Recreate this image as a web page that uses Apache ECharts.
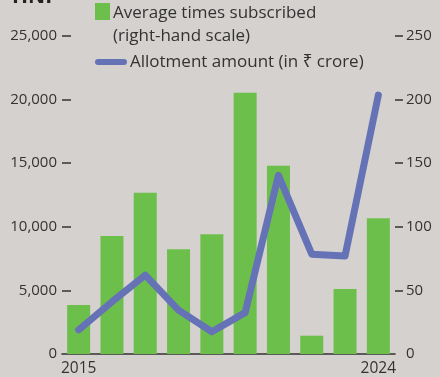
<!DOCTYPE html>
<html>
<head>
<meta charset="utf-8">
<script src="https://cdn.jsdelivr.net/npm/echarts@6/dist/echarts.min.js"></script>
<style>
html,body{margin:0;padding:0;background:#d5d1cf;}
#c{width:440px;height:377px;}
</style>
</head>
<body>
<div id="c"></div>
<script>
var years = ['2015','2016','2017','2018','2019','2020','2021','2022','2023','2024'];
var timesSubscribed = [38.5, 92.8, 126.8, 82.3, 94.1, 205.4, 148, 14.4, 51.1, 106.7];
var allotmentAmount = [1900, 4100, 6200, 3450, 1750, 3250, 14050, 7850, 7700, 20350];
var leftTicks = [0, 5000, 10000, 15000, 20000, 25000];
var rightTicks = [0, 50, 100, 150, 200, 250];

var FONT = '"Open Sans","Noto Sans","DejaVu Sans",sans-serif';
var TXT = '#333333';
var chart = echarts.init(document.getElementById('c'), null, {renderer:'canvas'});
chart.setOption({
  backgroundColor: '#d5d1cf',
  animation: false,
  textStyle: {fontFamily: FONT},
  grid: {left: 62, right: 45, top: 36, bottom: 23},
  xAxis: {
    type: 'category',
    data: years,
    axisLine: {lineStyle: {color: '#333', width: 1.6}},
    axisTick: {show: false},
    axisLabel: {
      color: TXT, fontSize: 15.5, fontFamily: FONT, margin: 7,
      interval: function(i){ return i === 0 || i === years.length - 1; }
    }
  },
  yAxis: [
    {
      type: 'value', min: leftTicks[0], max: leftTicks[leftTicks.length-1], interval: 5000,
      splitLine: {show: false},
      axisLine: {show: false},
      axisTick: {show: true, inside: true, length: 9, lineStyle: {color: '#333', width: 1.5},
                 customValues: leftTicks.slice(1)},
      axisLabel: {color: TXT, fontSize: 15, fontFamily: FONT, margin: 5,
                  formatter: function(v){ return v.toLocaleString('en-US'); }}
    },
    {
      type: 'value', min: rightTicks[0], max: rightTicks[rightTicks.length-1], interval: 50,
      splitLine: {show: false},
      axisLine: {show: false},
      axisTick: {show: true, inside: false, length: 8, lineStyle: {color: '#333', width: 1.5},
                 customValues: rightTicks.slice(1)},
      axisLabel: {color: TXT, fontSize: 15, fontFamily: FONT, margin: 11}
    }
  ],
  series: [
    {
      name: 'Average times subscribed', type: 'bar', yAxisIndex: 1,
      data: timesSubscribed, barWidth: 23,
      itemStyle: {color: '#6dbf4b'}
    },
    {
      name: 'Allotment amount (in ₹ crore)', type: 'line', yAxisIndex: 0,
      data: allotmentAmount, symbol: 'none', z: 5,
      lineStyle: {color: '#6672b6', width: 7, cap: 'round', join: 'round'}
    }
  ],
  graphic: [
    {type: 'text', left: 12, top: -13, style: {text: 'HNI', font: 'bold 21px ' + FONT, fill: '#222'}},
    {type: 'rect', shape: {x: 95, y: 3, width: 15, height: 17}, style: {fill: '#6dbf4b'}},
    {type: 'text', x: 113, y: 13, style: {text: 'Average times subscribed', font: '17px ' + FONT, fill: TXT, verticalAlign: 'middle'}},
    {type: 'text', x: 113, y: 36, style: {text: '(right-hand scale)', font: '17px ' + FONT, fill: TXT, verticalAlign: 'middle'}},
    {type: 'line', shape: {x1: 98, y1: 62, x2: 124, y2: 62}, style: {stroke: '#6672b6', lineWidth: 6, lineCap: 'round'}},
    {type: 'text', x: 130, y: 62, style: {text: 'Allotment amount (in ₹ crore)', font: '17px ' + FONT, fill: TXT, verticalAlign: 'middle'}}
  ]
});
</script>
</body>
</html>
